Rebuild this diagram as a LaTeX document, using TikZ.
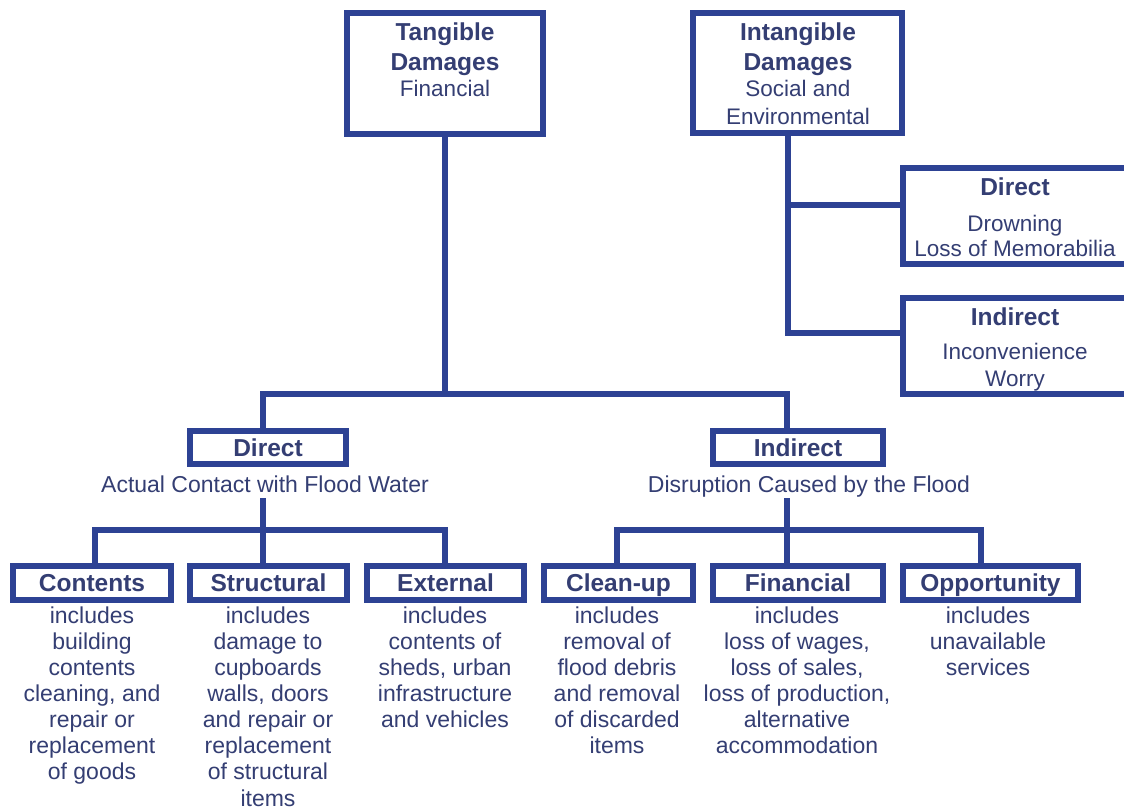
\documentclass[tikz,border=0pt]{standalone}
\usepackage{fontspec}
\setmainfont{Liberation Sans}
\definecolor{ln}{RGB}{45,66,148}
\definecolor{tx}{RGB}{52,62,115}
\begin{document}
\begin{tikzpicture}[x=1pt,y=-1pt,
 box/.style={draw=ln,line width=6pt,rectangle,inner sep=0pt,outer sep=0pt,fill=white},
 conn/.style={draw=ln,line width=6pt,line join=miter},
 hd/.style={text=tx,font=\fontsize{24.5}{29}\selectfont\bfseries,anchor=base,inner sep=0pt},
 bd/.style={text=tx,font=\fontsize{22.5}{26.5}\selectfont,anchor=base,inner sep=0pt},
 sub/.style={text=tx,font=\fontsize{23}{26.5}\selectfont,anchor=base,inner sep=1pt},
 desc/.style={text=tx,font=\fontsize{23}{26.1}\selectfont,anchor=north,inner sep=0pt,align=center},
]
\fill[white] (0,0) rectangle (1124,810);
\useasboundingbox (0,0) rectangle (1124,810);

% boxes
\node[box,minimum width=196pt,minimum height=121pt] (tg) at (445,73.5) {};
\node[box,minimum width=209pt,minimum height=120pt] (itg) at (797.5,73) {};
\node[box,minimum width=226pt,minimum height=96pt] (rdir) at (1016,216) {};
\node[box,minimum width=226pt,minimum height=96pt] (rind) at (1016,346) {};
\node[box,minimum width=156pt,minimum height=33pt] (ldir) at (268,447.5) {};
\node[box,minimum width=170pt,minimum height=33pt] (lind) at (798,447.5) {};
\node[box,minimum width=158pt,minimum height=34pt] (cont) at (92,583) {};
\node[box,minimum width=157pt,minimum height=34pt] (stru) at (268.5,583) {};
\node[box,minimum width=157pt,minimum height=34pt] (ext) at (445.5,583) {};
\node[box,minimum width=149pt,minimum height=34pt] (cln) at (618.5,583) {};
\node[box,minimum width=170pt,minimum height=34pt] (fin) at (798,583) {};
\node[box,minimum width=175pt,minimum height=34pt] (opp) at (990.5,583) {};

% connectors
\coordinate (tj) at (445,394);
\draw[conn] (tg.south) -- (tj);
\draw[conn] ([xshift=-5pt]ldir.north) |- (tj) -| ([xshift=-11pt]lind.north);
\draw[conn] ([xshift=-9.5pt]itg.south) |- ([yshift=13pt]rind.west);
\draw[conn] ([yshift=11pt]rdir.west) -- ++(-115,0);
\draw[conn] ([xshift=-5.5pt]stru.north) -- ++(0,-68);
\draw[conn] ([xshift=3pt]cont.north) -- ++(0,-36) -| ([xshift=-0.5pt]ext.north);
\draw[conn] ([xshift=-11pt]fin.north) -- ++(0,-68);
\draw[conn] ([xshift=-1.5pt]cln.north) -- ++(0,-36) -| ([xshift=-9.5pt]opp.north);

% top texts
\node[hd] (tg1) at (445,40.5) {Tangible};
\node[hd] (tg2) at (445,70.5) {Damages};
\node[bd] (tg3) at (445,97) {Financial};
\node[hd] (itg1) at (798,40.5) {Intangible};
\node[hd] (itg2) at (798,70.5) {Damages};
\node[bd] (itg3) at (798,97) {Social and};
\node[bd] (itg4) at (798,125) {Environmental};

\node[hd] (rdir1) at (1015,195.5) {Direct};
\node[bd] (rdir2) at (1015,232) {Drowning};
\node[bd] (rdir3) at (1015,257) {Loss of Memorabilia};
\node[hd] (rind1) at (1015,325.5) {Indirect};
\node[bd] (rind2) at (1015,359) {Inconvenience};
\node[bd] (rind3) at (1015,386) {Worry};

\node[hd] (ldir1) at (268,456.5) {Direct};
\node[sub] (ldsub) at (265,492) {Actual Contact with Flood Water};
\node[hd] (lind1) at (798,456.5) {Indirect};
\node[sub] (lisub) at (809,492) {Disruption Caused by the Flood};

% child headings
\node[hd] (cont1) at (92,591.5) {Contents};
\node[hd] (stru1) at (268.5,591.5) {Structural};
\node[hd] (ext1) at (445.5,591.5) {External};
\node[hd] (cln1) at (618.5,591.5) {Clean-up};
\node[hd] (fin1) at (798,591.5) {Financial};
\node[hd] (opp1) at (990.5,591.5) {Opportunity};

% descriptions
\node[desc] (contd) at (92,606.5) {includes\\building\\contents\\cleaning, and\\repair or\\replacement\\of goods};
\node[desc] (strud) at (268,606.5) {includes\\damage to\\cupboards\\walls, doors\\and repair or\\replacement\\of structural\\items};
\node[desc] (extd) at (445,606.5) {includes\\contents of\\sheds, urban\\infrastructure\\and vehicles};
\node[desc] (clnd) at (617,606.5) {includes\\removal of\\flood debris\\and removal\\of discarded\\items};
\node[desc] (find) at (797,606.5) {includes\\loss of wages,\\loss of sales,\\loss of production,\\alternative\\accommodation};
\node[desc] (oppd) at (988,606.5) {includes\\unavailable\\services};
\end{tikzpicture}
\end{document}
